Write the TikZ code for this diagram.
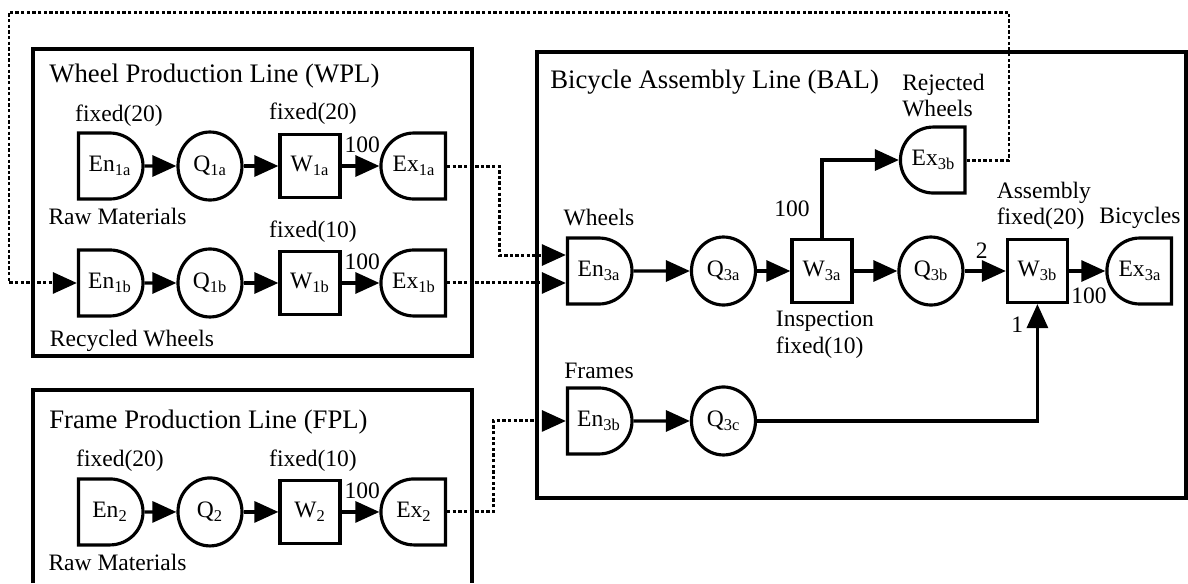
\documentclass[tikz,border=0pt]{standalone}
\usepackage{fontspec}
\setmainfont{Liberation Serif}
\usetikzlibrary{shapes.misc, shapes.geometric, arrows.meta, positioning}
\newcommand{\nodefont}{\fontsize{13.4}{15}\selectfont}
\newcommand{\titlefont}{\fontsize{15.2}{18}\selectfont}
\tikzset{
    entry/.style = {rounded rectangle, rounded rectangle left arc=none, draw, line width=1.8pt, minimum width=1.26cm, minimum height=1.32cm, inner sep=0pt, font=\nodefont},
    exitpt/.style = {rounded rectangle, rounded rectangle right arc=none, draw, line width=1.8pt, minimum width=1.26cm, minimum height=1.32cm, inner sep=0pt, font=\nodefont},
    queue/.style = {ellipse, draw, line width=1.8pt, minimum width=1.28cm, minimum height=1.36cm, inner sep=0pt, font=\nodefont},
    work/.style = {rectangle, draw, line width=1.8pt, minimum width=1.2cm, minimum height=1.26cm, inner sep=0pt, font=\nodefont},
    note/.style = {inner sep=1pt, font=\nodefont},
    linetitle/.style = {anchor=base west, inner sep=0pt, font=\titlefont},
    linebox/.style = {draw, line width=1.8pt},
    arrow/.style = {line width=1.8pt, ->},
    dotarrow/.style = {line width=1.7pt, dash pattern=on 1.9pt off 1.3pt, ->}
}

\begin{document}
\begin{tikzpicture}[x=0.02cm, y=0.02cm, node distance=2cm, >={Triangle[length=0.48cm, width=0.42cm]}]
        \useasboundingbox (0,0) rectangle (1188,-583);

        % Production line boxes
        \draw [linebox] (33,-49) rectangle (472,-356);
        \draw [linebox] (33,-583) |- (472,-390) -- (472,-583);
        \draw [linebox] (537,-52) rectangle (1186,-498);
        \node [linetitle] (wpl) at (49,-82) {Wheel Production Line (WPL)};
        \node [linetitle] (fpl) at (49,-428) {Frame Production Line (FPL)};
        \node [linetitle] (bal) at (550,-88) {Bicycle Assembly Line (BAL)};

        % Nodes
        \node [entry] (en1a) at (110,-166) {En\textsubscript{1a}};
        \node [queue, right of=en1a] (q1a) {Q\textsubscript{1a}};
        \node [work, right of=q1a] (w1a) {W\textsubscript{1a}};
        \node [exitpt, right of=w1a, node distance=2.08cm] (ex1a) {Ex\textsubscript{1a}};

        \node [entry, below of=en1a, node distance=2.34cm] (en1b) {En\textsubscript{1b}};
        \node [queue, right of=en1b] (q1b) {Q\textsubscript{1b}};
        \node [work, right of=q1b] (w1b) {W\textsubscript{1b}};
        \node [exitpt, right of=w1b, node distance=2.08cm] (ex1b) {Ex\textsubscript{1b}};

        \node [entry, below of=en1b, node distance=4.58cm] (en2) {En\textsubscript{2}};
        \node [queue, right of=en2] (q2) {Q\textsubscript{2}};
        \node [work, right of=q2] (w2) {W\textsubscript{2}};
        \node [exitpt, right of=w2, node distance=2.08cm] (ex2) {Ex\textsubscript{2}};

        \node [entry] (en3a) at (599,-271) {En\textsubscript{3a}};
        \node [queue, right of=en3a, node distance=2.49cm] (q3a) {Q\textsubscript{3a}};
        \node [work, right of=q3a, node distance=1.97cm] (w3a) {W\textsubscript{3a}};
        \node [queue, right of=w3a, node distance=2.18cm] (q3b) {Q\textsubscript{3b}};
        \node [work, right of=q3b, node distance=2.13cm] (w3b) {W\textsubscript{3b}};
        \node [exitpt, right of=w3b, node distance=2.05cm] (ex3a) {Ex\textsubscript{3a}};
        \node [exitpt, above of=q3b, node distance=2.22cm, xshift=0.05cm] (ex3b) {Ex\textsubscript{3b}};
        \node [entry, below of=en3a, node distance=3cm] (en3b) {En\textsubscript{3b}};
        \node [queue, right of=en3b, node distance=2.49cm] (q3c) {Q\textsubscript{3c}};

        % Labels
        \node [note, above=0.065cm of en1a, xshift=0.18cm] (fx1a) {fixed(20)};
        \node [note, above=0.12cm of w1a, xshift=0.06cm] (fxw1a) {fixed(20)};
        \node [note, below=0.1cm of en1a, xshift=0.15cm] (raw1) {Raw Materials};
        \node [note, above=0.1cm of w1b, xshift=0.06cm] (fxw1b) {fixed(10)};
        \node [note, below=0.2cm of en1b, xshift=0.44cm] (recyc) {Recycled Wheels};
        \node [note, above=0.065cm of en2, xshift=0.2cm] (fx2) {fixed(20)};
        \node [note, above=0.1cm of w2, xshift=0.06cm] (fxw2) {fixed(10)};
        \node [note, below=0.12cm of en2, xshift=0.15cm] (raw2) {Raw Materials};
        \node [note, above=0.16cm of en3a] (wheels) {Wheels};
        \node [note, above=0.12cm of en3b] (frames) {Frames};
        \node [note, align=left, above=0.12cm of ex3b, xshift=0.2cm] (reject) {Rejected\\Wheels};
        \node [note, align=left, above=0.12cm of w3b, xshift=0.13cm] (assem) {Assembly\\fixed(20)};
        \node [note, above=0.12cm of ex3a] (bikes) {Bicycles};
        \node [note, align=left, below=0.1cm of w3a, xshift=0.06cm] (insp) {Inspection\\fixed(10)};

        % Edges
        \draw [arrow] (en1a) -- (q1a);
        \draw [arrow] (q1a) -- (w1a);
        \draw [arrow] (w1a) -- node [note, above=0.2cm, pos=0.55] (out1a) {100} (ex1a);
        \draw [arrow] (en1b) -- (q1b);
        \draw [arrow] (q1b) -- (w1b);
        \draw [arrow] (w1b) -- node [note, above=0.2cm, pos=0.55] (out1b) {100} (ex1b);
        \draw [arrow] (en2) -- (q2);
        \draw [arrow] (q2) -- (w2);
        \draw [arrow] (w2) -- node [note, above=0.2cm, pos=0.55] (out2) {100} (ex2);
        \draw [arrow] (en3a) -- (q3a);
        \draw [arrow] (q3a) -- (w3a);
        \draw [arrow] (w3a) -- (q3b);
        \draw [arrow] (w3a) |- node [note, left=0.18cm, pos=0.19] (out3a) {100} (ex3b);
        \draw [arrow] (q3b) -- node [note, above=0.18cm, pos=0.42] (in2) {2} (w3b);
        \draw [arrow] (w3b) -- node [note, below=0.26cm, pos=0.55] (out3b) {100} (ex3a);
        \draw [arrow] (en3b) -- (q3c);
        \draw [arrow] (q3c) -| node [note, left=0.22cm, pos=0.91] (in1) {1} (w3b);

        % Transfers between lines
        \coordinate (topR) at (1009,-12);
        \coordinate (topL) at (9,-12);
        \draw [dotarrow] (ex3b.east) -| (topR) -- (topL) |- (en1b.west);
        \draw [dotarrow] (ex1a.east) -- ++(52,0) |- ([yshift=0.32cm]en3a.west);
        \draw [dotarrow] (ex1b.east) -- (ex1b -| en3a.west);
        \draw [dotarrow] (ex2.east) -- ++(46,0) |- (en3b.west);

    \end{tikzpicture}
\end{document}
